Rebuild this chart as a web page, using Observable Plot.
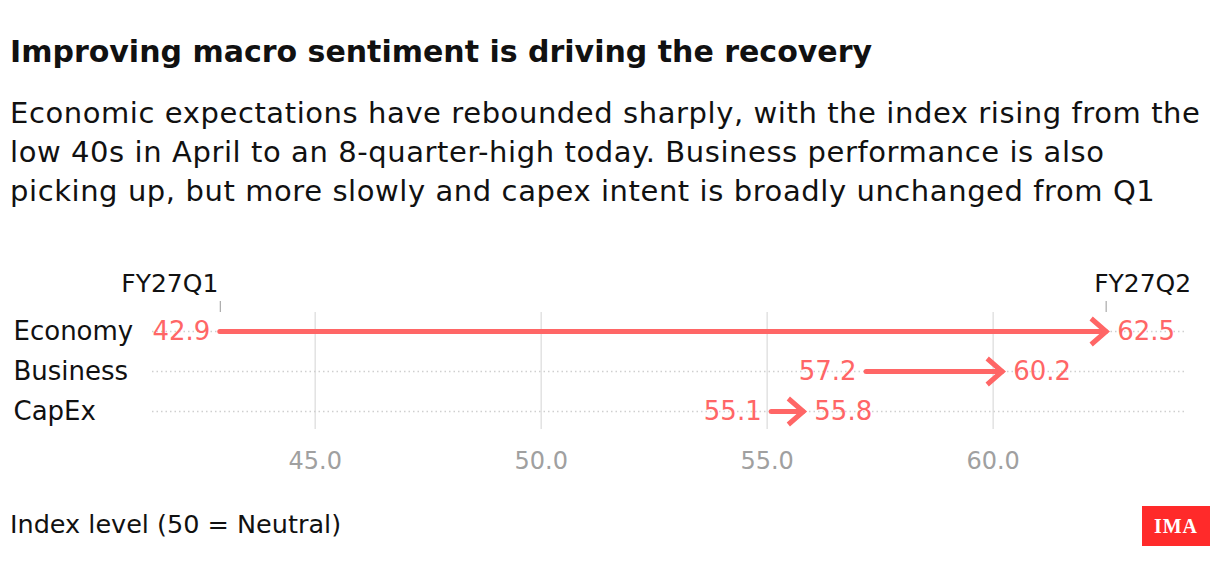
<!DOCTYPE html>
<html>
<head>
<meta charset="utf-8">
<script src="https://cdn.jsdelivr.net/npm/d3@7"></script>
<script src="https://cdn.jsdelivr.net/npm/@observablehq/plot@0.6"></script>
<style>
  html, body { margin: 0; padding: 0; background: #fff; }
  body { width: 1220px; height: 582px; position: relative; overflow: hidden; font-family: "DejaVu Sans", sans-serif; color: #111; }
  #title { position: absolute; left: 10px; top: 32px; font-size: 30px; font-weight: bold; line-height: 40px; white-space: nowrap; }
  #subtitle { position: absolute; left: 10px; top: 94px; font-size: 29px; line-height: 39px; white-space: nowrap; letter-spacing: 0.58px; }
  #chart { position: absolute; left: 0; top: 249px; }
  #caption { position: absolute; left: 10px; top: 509px; font-size: 25.5px; line-height: 30px; white-space: nowrap; }
  #logo { position: absolute; left: 1142px; top: 506px; width: 68px; height: 40px; background: #ff2a2a; color: #fff; font-family: "Liberation Serif", "DejaVu Serif", serif; font-weight: bold; font-size: 20px; line-height: 40px; text-align: center; letter-spacing: 1px; }
</style>
</head>
<body>
<div id="title">Improving macro sentiment is driving the recovery</div>
<div id="subtitle">Economic expectations have rebounded sharply, with the index rising from the<br>low 40s in April to an 8-quarter-high today. Business performance is also<br>picking up, but more slowly and capex intent is broadly unchanged from Q1</div>
<div id="chart"></div>
<div id="caption">Index level (50 = Neutral)</div>
<div id="logo">IMA</div>
<script>
const categories = ["Economy", "Business", "CapEx"];
const q1Values = [42.9, 57.2, 55.1];
const q2Values = [62.5, 60.2, 55.8];
const xTicks = [45, 50, 55, 60];
const periodLabels = ["FY27Q1", "FY27Q2"];

const red = "#ff6666";
const rows = categories.map((c, i) => ({cat: c, q1: q1Values[i], q2: q2Values[i]}));
const periods = [
  {label: periodLabels[0], x: q1Values[0]},
  {label: periodLabels[1], x: q2Values[0]}
];

const chevron = {
  draw(context) {
    context.moveTo(-15, -13);
    context.lineTo(0, 0);
    context.lineTo(-15, 13);
  }
};

const chart = Plot.plot({
  width: 1220,
  height: 240,
  marginLeft: 152,
  marginRight: 33,
  marginTop: 63,
  marginBottom: 60,
  style: {fontFamily: "DejaVu Sans, sans-serif", fontSize: "25px", background: "transparent"},
  x: {domain: [41.4, 64.3]},
  y: {type: "point", domain: categories, padding: 0.45},
  marks: [
    Plot.gridX(xTicks, {stroke: "#e2e2e2", strokeOpacity: 1, strokeWidth: 1.5}),
    Plot.ruleY(categories, {y: d => d, stroke: "#cfcfcf", strokeWidth: 1.5, strokeDasharray: "1.5,3"}),
    Plot.axisX({ticks: xTicks, tickFormat: d3.format(".1f"), tickSize: 0, tickPadding: 22, fill: "#a0a0a0", fontSize: 24, label: null}),
    Plot.axisY({tickSize: 0, tickPadding: 0, textAnchor: "start", dx: -139, fill: "#111", fontSize: 26, label: null}),
    Plot.ruleX(periods, {x: "x", stroke: "#999", strokeWidth: 1, insetTop: -11, insetBottom: 117}),
    Plot.text(periods.slice(0, 1), {x: "x", text: "label", frameAnchor: "top", lineAnchor: "middle", dy: -29, textAnchor: "end", dx: -2, fill: "#111", fontSize: 25}),
    Plot.text(periods.slice(1), {x: "x", text: "label", frameAnchor: "top", lineAnchor: "middle", dy: -29, textAnchor: "start", dx: -12, fill: "#111", fontSize: 25}),
    Plot.ruleY(rows, {x1: "q1", x2: "q2", y: "cat", stroke: red, strokeWidth: 5, strokeLinecap: "round"}),
    Plot.dot(rows, {x: "q2", y: "cat", symbol: chevron, fill: "none", stroke: red, strokeWidth: 5, strokeLinejoin: "miter", r: 10}),
    Plot.text(rows, {x: "q1", y: "cat", text: d => d.q1.toFixed(1), textAnchor: "end", dx: -10, fill: red, fontSize: 26}),
    Plot.text(rows, {x: "q2", y: "cat", text: d => d.q2.toFixed(1), textAnchor: "start", dx: 11, fill: red, fontSize: 26})
  ]
});
document.getElementById("chart").appendChild(chart);
</script>
</body>
</html>
